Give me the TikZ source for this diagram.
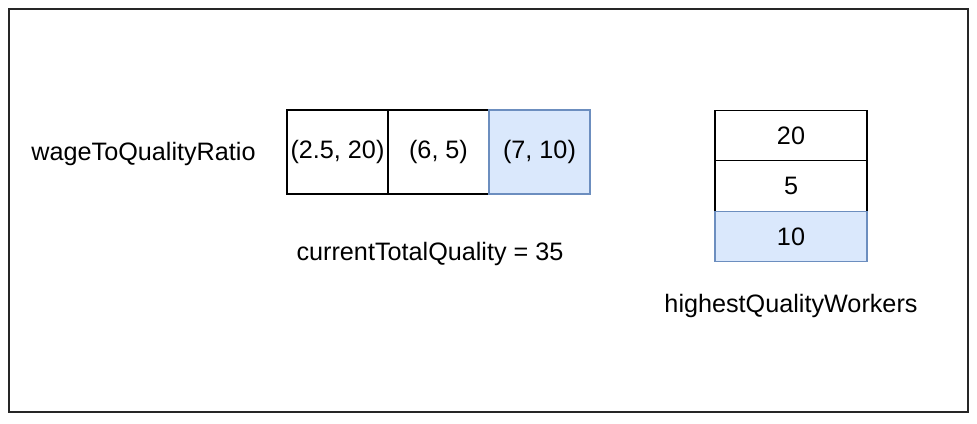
\documentclass[tikz,border=0pt]{standalone}
\usepackage{fontspec}
\setmainfont{Liberation Sans}
\usepackage{tikz}
\usetikzlibrary{positioning}
\definecolor{cellblue}{HTML}{DAE8FC}
\definecolor{edgeblue}{HTML}{6C8EBF}
\tikzstyle{cell} = [rectangle, draw, line width=1.3pt, inner sep=0pt, outer sep=0pt, minimum width=101pt, minimum height=84pt]
\tikzstyle{slot} = [rectangle, draw, line width=1.3pt, inner sep=0pt, outer sep=0pt, minimum width=152pt, minimum height=50.5pt]
\tikzstyle{marked} = [fill=cellblue, draw=edgeblue]

\begin{document}
\begin{tikzpicture}[x=1pt, y=1pt, font=\fontsize{25.2}{30}\selectfont]
\useasboundingbox (0,0) rectangle (977,-423);
\draw [line width=1.3pt, black!85] (9,-9) rectangle (968,-412);

\node (ratio) at (143.5,-154) {wageToQualityRatio};
\node [cell] (r1) at (337.5,-152) {(2.5, 20)};
\node [cell] (r2) [right=0pt of r1] {(6, 5)};
\node [cell, marked] (r3) [right=0pt of r2] {(7, 10)};
\node (total) at (430,-254) {currentTotalQuality = 35};

\node [slot] (q1) at (791,-135.5) {20};
\node [slot] (q2) [below=0pt of q1] {5};
\node [slot, marked] (q3) [below=0pt of q2] {10};
\node (workers) at (791,-306) {highestQualityWorkers};
\end{tikzpicture}
\end{document}
